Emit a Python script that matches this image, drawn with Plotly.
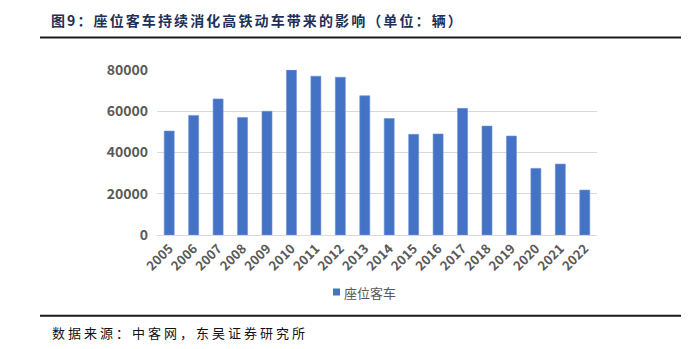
import plotly.graph_objects as go

years = ["2005", "2006", "2007", "2008", "2009", "2010", "2011", "2012", "2013",
         "2014", "2015", "2016", "2017", "2018", "2019", "2020", "2021", "2022"]
seat_buses = [50400, 58000, 66000, 57000, 60000, 80000, 77000, 76500, 67500,
              56500, 48800, 49000, 61400, 52800, 48000, 32300, 34400, 21800]
y_ticks = [0, 20000, 40000, 60000, 80000]
series_name = "座位客车"

W, H = 698, 349
L, R, T, B = 157, 597, 70, 235  # plot area in pixels
BAR_BLUE = "#4472C4"


def px(x):
    return (x - L) / (R - L)


def py(y):
    return (B - y) / (B - T)


CJK = "Noto Sans CJK SC"
GREY = "#595959"

fig = go.Figure()
fig.add_trace(go.Bar(
    x=years, y=seat_buses, name=series_name, showlegend=False,
    marker=dict(color=BAR_BLUE, line=dict(color="#6f93d6", width=0.6)),
))

fig.update_layout(
    width=W, height=H,
    margin=dict(l=L, r=W - R, t=T, b=H - B),
    paper_bgcolor="white", plot_bgcolor="white",
    bargap=0.59,
    font=dict(family=CJK, color=GREY),
    title=dict(
        text="<b><span style='letter-spacing:2.1px'>图9：座位客车持续消化高铁动车带来的影响（单位：辆）</span></b>",
        font=dict(family=CJK, size=14, color="#1f3057"),
        xref="container", yref="container",
        x=51 / W, xanchor="left", y=1 - 21.5 / H, yanchor="middle",
    ),
    xaxis=dict(
        type="category", tickangle=-45,
        tickfont=dict(family=CJK, size=13, color=GREY, weight="bold"),
        showline=True, linecolor="#d9d9d9", linewidth=1,
        ticks="", showgrid=False,
    ),
    yaxis=dict(
        range=[0, 80000], tickvals=y_ticks, ticktext=[str(v) for v in y_ticks],
        tickfont=dict(family=CJK, size=14, color=GREY, weight="bold"),
        showgrid=True, gridcolor="#d9d9d9", gridwidth=1,
        zeroline=False, showline=False, ticks="", ticklabelstandoff=8,
    ),
    shapes=[
        dict(type="line", xref="paper", yref="paper",
             x0=px(40), x1=px(681), y0=py(37.5), y1=py(37.5),
             line=dict(color="#1a1a1a", width=2)),
        dict(type="line", xref="paper", yref="paper",
             x0=px(40), x1=px(681), y0=py(315.7), y1=py(315.7),
             line=dict(color="#1a1a1a", width=2)),
        # legend swatch
        dict(type="rect", xref="paper", yref="paper",
             x0=px(333), x1=px(340), y0=py(288.5), y1=py(295.5),
             fillcolor=BAR_BLUE, line=dict(width=0)),
    ],
    annotations=[
        dict(text=series_name, xref="paper", yref="paper",
             x=px(342), y=py(292.5), xanchor="left", yanchor="middle",
             showarrow=False, font=dict(family=CJK, size=13, color=GREY)),
        dict(text="<span style='letter-spacing:3px'>数据来源：中客网，东吴证券研究所</span>",
             xref="paper", yref="paper",
             x=px(50), y=py(332.5), xanchor="left", yanchor="middle",
             showarrow=False, font=dict(family=CJK, size=13, color="#111111")),
    ],
)

fig.write_html("out.html")
